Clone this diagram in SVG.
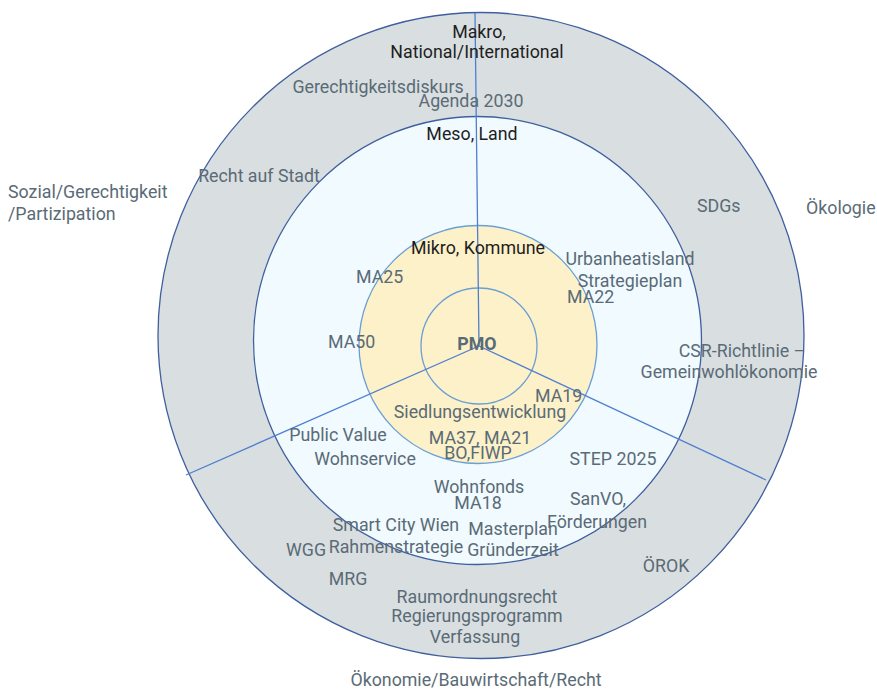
<svg xmlns="http://www.w3.org/2000/svg" width="877" height="690" viewBox="0 0 877 690">
<style>
text{font-family:Roboto,"Liberation Sans",sans-serif;font-size:17.8px;fill:#5a6b76}
.k{fill:#1e1e1e}
.c{text-anchor:middle}
.b{font-weight:bold}
.ring{stroke:#3f5f9f;stroke-width:1.3}
.inner{stroke:#6a9fd6;stroke-width:1.3}
.ax{stroke:#4f7fcf;stroke-width:1.3;fill:none}
</style>
<rect width="877" height="690" fill="#ffffff"/>
<g id="outer"><circle class="ring" cx="481" cy="335.5" r="323" fill="#d9dee1"/></g>
<g id="middle"><circle class="ring" cx="477.5" cy="340.5" r="224" fill="#f0faff"/></g>
<g id="yellow"><circle class="inner" cx="478" cy="344.5" r="119" fill="#fdf1c9"/></g>
<g id="core"><circle class="inner" cx="479" cy="346" r="58" fill="none"/></g>
<g id="connectors">
<line class="ax" x1="479" y1="346" x2="475" y2="13"/>
<line class="ax" x1="479" y1="346" x2="186" y2="475"/>
<line class="ax" x1="479" y1="346" x2="766" y2="480"/>
</g>
<g id="labels">
<text class="k c" x="479" y="38">Makro,</text>
<text class="k c" x="477" y="58">National/International</text>
<text class="c" x="378" y="93">Gerechtigkeitsdiskurs</text>
<text class="c" x="471" y="107">Agenda 2030</text>
<text class="k c" x="472" y="140">Meso, Land</text>
<text class="c" x="259" y="182">Recht auf Stadt</text>
<text x="8" y="198">Sozial/Gerechtigkeit</text>
<text x="8" y="220">/Partizipation</text>
<text x="697" y="212">SDGs</text>
<text x="806" y="214">Ökologie</text>
<text class="k c" x="478" y="254">Mikro, Kommune</text>
<text class="c" x="630" y="265">Urbanheatisland</text>
<text class="c" x="630" y="287">Strategieplan</text>
<text x="567" y="303">MA22</text>
<text x="356" y="283">MA25</text>
<text x="328" y="348">MA50</text>
<text class="c b" x="477" y="350">PMO</text>
<text class="c" x="742" y="357">CSR-Richtlinie –</text>
<text class="c" x="729" y="378">Gemeinwohlökonomie</text>
<text x="535" y="402">MA19</text>
<text class="c" x="480" y="418">Siedlungsentwicklung</text>
<text class="c" x="338" y="441">Public Value</text>
<text class="c" x="480" y="444">MA37, MA21</text>
<text class="c" x="478" y="459">BO,FIWP</text>
<text class="c" x="365" y="465">Wohnservice</text>
<text class="c" x="613" y="465">STEP 2025</text>
<text class="c" x="479" y="493">Wohnfonds</text>
<text class="c" x="478" y="509">MA18</text>
<text class="c" x="598" y="505">SanVO,</text>
<text class="c" x="396" y="531">Smart City Wien</text>
<text class="c" x="597" y="528">Förderungen</text>
<text class="c" x="513" y="535">Masterplan</text>
<text class="c" x="306" y="556">WGG</text>
<text class="c" x="396" y="553">Rahmenstrategie</text>
<text class="c" x="513" y="556">Gründerzeit</text>
<text class="c" x="666" y="572">ÖROK</text>
<text class="c" x="348" y="585">MRG</text>
<text class="c" x="477" y="603">Raumordnungsrecht</text>
<text class="c" x="477" y="622">Regierungsprogramm</text>
<text class="c" x="475" y="643">Verfassung</text>
<text class="c" x="476" y="686">Ökonomie/Bauwirtschaft/Recht</text>
</g>
</svg>
